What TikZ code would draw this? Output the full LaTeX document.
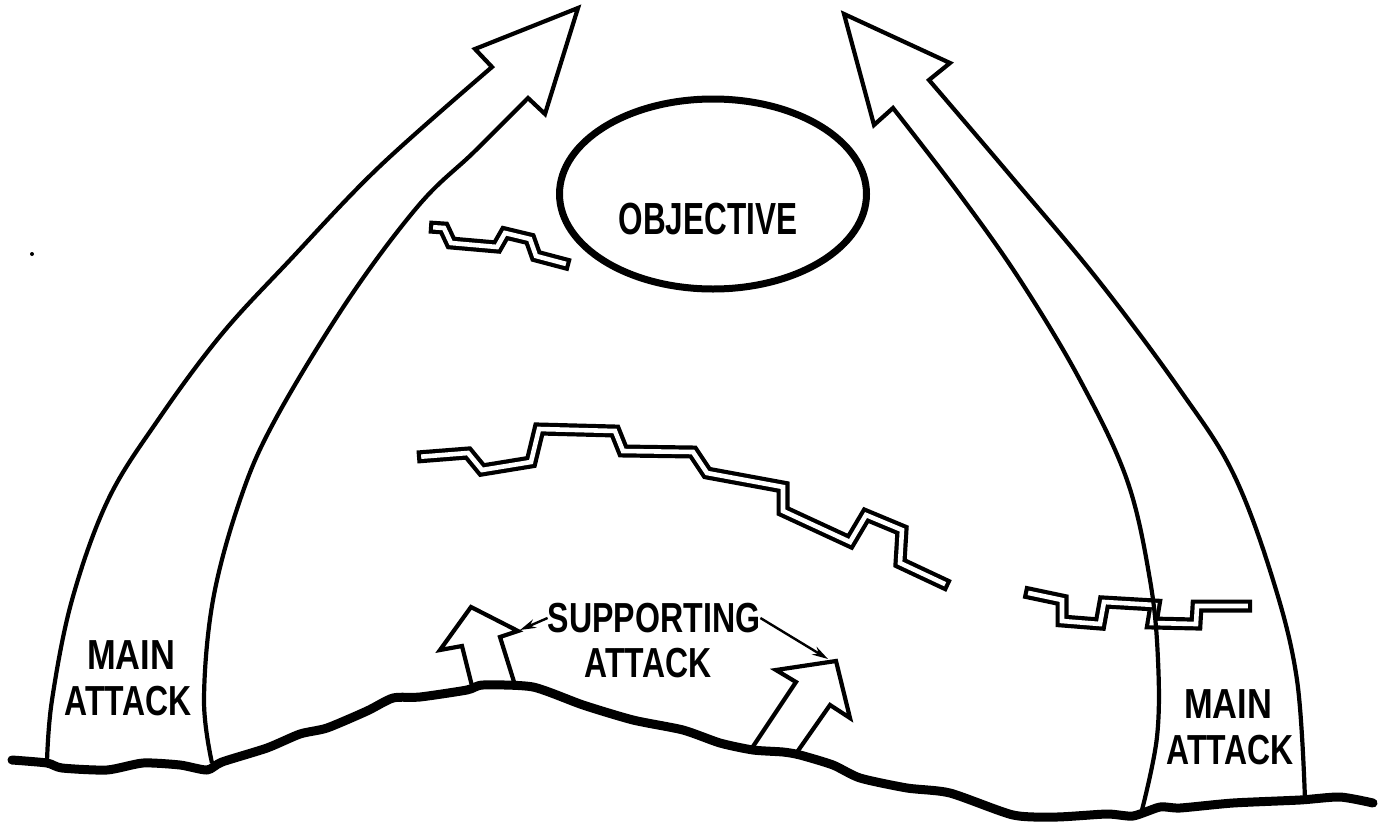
\documentclass[tikz,border=0pt]{standalone}
\usepackage{fontspec}
\setmainfont{Liberation Sans}
\usetikzlibrary{arrows.meta,shapes.geometric}
\begin{document}
\begin{tikzpicture}[x=1pt,y=-1pt,
  outl/.style={line width=4.2pt, line join=miter},
  grnd/.style={line width=9pt, line cap=round, line join=round},
  trench/.style={line width=13pt, line join=miter,
    postaction={draw=white, line width=4.6pt, shorten <=4.2pt, shorten >=4.2pt}},
  lbl/.style={font=\bfseries\fontsize{42}{46}\selectfont, inner sep=0pt},
  ptr/.style={line width=2.4pt, -{Stealth[length=16pt,width=9pt]}}]
\useasboundingbox[fill=white] (0,0) rectangle (1379,822);

% speck
\fill (32,254) circle (2);

% trenches
\draw[trench] (429,227) -- (444,228) -- (451,243) -- (497,247) -- (505,233) -- (530,239) -- (536,256) -- (570,265);
\draw[trench] (417,457) -- (468,453) -- (482,470) -- (531,462) -- (539,429) -- (615,431) -- (623,451) -- (693,452) -- (707,473) -- (783,487) -- (783,511) -- (850,542) -- (866,515) -- (902,530) -- (900,563) -- (949,586);
\draw[trench] (1024,592) -- (1062,600) -- (1062,621) -- (1100,624) -- (1104,602) -- (1155,605) -- (1152,623) -- (1196,624) -- (1197,606) -- (1252,606);

% objective
\node[ellipse, draw, line width=7pt, minimum width=307pt, minimum height=190pt, inner sep=0pt] (obj) at (713,194) {};
\node[lbl, font=\bfseries\fontsize{45}{48}\selectfont] (objT) at (708,219) {\scalebox{0.70}[1]{OBJECTIVE}};

% left main attack arrow
\draw[outl] plot[smooth, tension=0.6] coordinates {(47,762) (52,700) (72,600) (108,500) (158,420) (221,335) (290,260) (379,167) (492,67)}
  -- (475,49) -- (578,8) -- (545,114) --
  plot[smooth, tension=0.6] coordinates {(528,98) (474,152) (419,205) (348,300) (275,420) (240,500) (213,600) (204,700) (212,763)};

% right main attack arrow
\draw[outl] plot[smooth, tension=0.6] coordinates {(1142,810) (1157,737) (1158,660) (1150,580) (1127,480) (1080,380) (1020,280) (960,195) (893,108)}
  -- (874,125) -- (844,14) -- (950,63) --
  plot[smooth, tension=0.6] coordinates {(929,80) (1010,175) (1098,280) (1180,390) (1233,473) (1273,580) (1297,680) (1305,800)};

% supporting attack arrows
\draw[outl] (472,686) -- (462,646) -- (440,650) -- (471,607) -- (518,631) -- (500,637) -- (515,685);
\draw[outl] (752,748) -- (796,682) -- (776,670) -- (836,661) -- (850,718) -- (830,705) -- (795,755);

% ground
\draw[grnd] plot[smooth, tension=0.4] coordinates {(12,760) (47,763) (62,768) (107,770) (143,763) (180,765) (207,770) (222,762) (267,748) (300,734) (327,728) (367,711) (393,698) (420,697) (467,690) (483,685) (533,687) (583,705) (633,720) (683,730) (720,743) (753,750) (783,752) (800,755) (833,765) (860,778) (907,788) (950,793) (1013,815) (1057,817) (1107,814) (1133,816) (1160,807) (1180,808) (1233,803) (1300,800) (1340,797) (1373,803)};

% labels
\node[lbl] (mainL1) at (131,655) {\scalebox{0.82}[1]{MAIN}};
\node[lbl] (mainL2) at (128,701) {\scalebox{0.76}[1]{ATTACK}};
\node[lbl] (mainR1) at (1228,704) {\scalebox{0.82}[1]{MAIN}};
\node[lbl] (mainR2) at (1230,750) {\scalebox{0.76}[1]{ATTACK}};
\node[lbl] (supA) at (654,618) {\scalebox{0.765}[1]{SUPPORTING}};
\node[lbl] (supB) at (648,663) {\scalebox{0.76}[1]{ATTACK}};

% pointers
\coordinate (slB) at (520,630);
\coordinate (srT) at (828,659);
\draw[ptr] (supA.west) -- (slB);
\draw[ptr] (supA.east) -- (srT);
\end{tikzpicture}
\end{document}
